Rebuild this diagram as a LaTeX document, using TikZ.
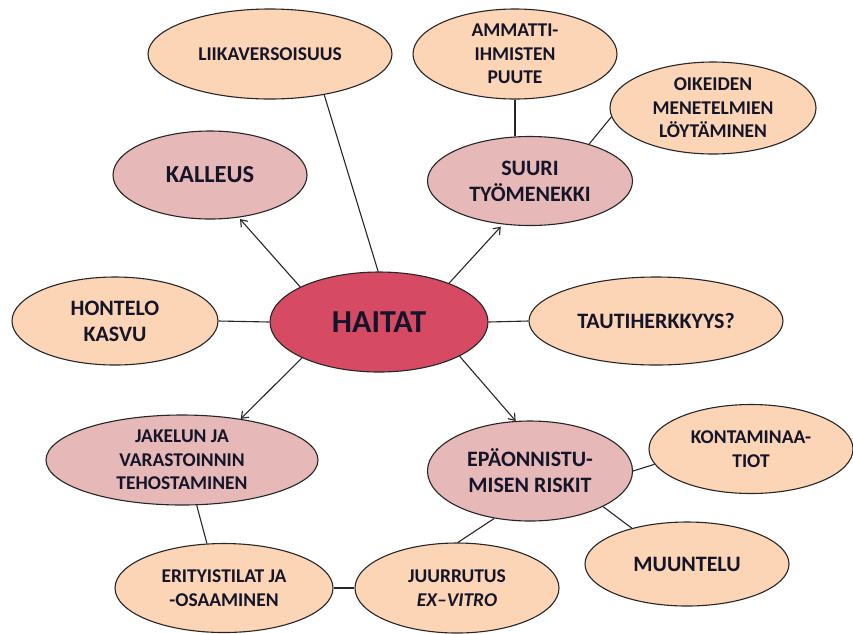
\documentclass[tikz,border=0pt]{standalone}
\usepackage{fontspec}
\setmainfont{Carlito}
\usetikzlibrary{shapes.geometric,arrows.meta}
\definecolor{peach}{HTML}{FBD5B5}
\definecolor{pinkish}{HTML}{E6B8B8}
\definecolor{haitatred}{HTML}{D64B63}
\definecolor{txt}{HTML}{15152A}
\tikzset{
  bubble/.style={ellipse, draw=black!85, line width=1.1pt, inner sep=0pt, align=center,
    text=txt, font=\bfseries\fontsize{19.5}{23.5}\selectfont},
  outer/.style={bubble, fill=peach},
  inner/.style={bubble, fill=pinkish},
  midtext/.style={font=\bfseries\fontsize{22}{26}\selectfont},
  conn/.style={line width=1.1pt, draw=black!85},
  arr/.style={conn, -{Straight Barb[length=6pt,width=9pt,line width=1.1pt]}},
}
\begin{document}
\begin{tikzpicture}[x=1pt,y=-1pt]
\useasboundingbox (0,0) rectangle (853,633);
\node[ellipse, draw=black!85, line width=1.1pt, fill=haitatred, minimum width=218, minimum height=100, inner sep=0pt, text=txt, font=\bfseries\fontsize{32}{36}\selectfont] (haitat) at (379,322) {HAITAT};
\node[outer, minimum width=244, minimum height=90] (liika) at (270,54) {LIIKAVERSOISUUS};
\node[inner, minimum width=194, minimum height=88, font=\bfseries\fontsize{24.5}{29}\selectfont] (kalleus) at (210,175) {KALLEUS};
\node[outer, midtext, minimum width=206, minimum height=88] (hontelo) at (115,321) {HONTELO\\KASVU};
\node[outer, minimum width=204, minimum height=90] (ammatti) at (515,54) {AMMATTI-\\IHMISTEN\\PUUTE};
\node[outer, minimum width=206, minimum height=92] (oikeiden) at (713,108) {OIKEIDEN\\MENETELMIEN\\LÖYTÄMINEN};
\node[inner, midtext, minimum width=205, minimum height=89] (suuri) at (530,181) {SUURI\\TYÖMENEKKI};
\node[outer, midtext, minimum width=254, minimum height=88] (tauti) at (656,321) {TAUTIHERKKYYS?};
\node[inner, minimum width=272, minimum height=90] (jakelun) at (182,460) {JAKELUN JA\\VARASTOINNIN\\TEHOSTAMINEN};
\node[outer, minimum width=218, minimum height=89] (erityis) at (224,588) {ERITYISTILAT JA\\-OSAAMINEN};
\node[outer, minimum width=204, minimum height=90] (juur) at (457,588) {JUURRUTUS\\\textit{EX–VITRO}};
\node[inner, midtext, minimum width=205, minimum height=100] (epa) at (530,471) {EPÄONNISTU-\\MISEN RISKIT};
\node[outer, minimum width=204, minimum height=89] (kont) at (751,449) {KONTAMINAA-\\TIOT};
\node[outer, midtext, minimum width=204, minimum height=84] (muunt) at (687,564) {MUUNTELU};

\draw[conn] (liika.-37.5) -- (haitat.91);
\draw[arr, shorten >=2pt] (haitat.156) -- (kalleus.-56);
\draw[arr, shorten >=3pt] (haitat.29.4) -- (suuri.-122);
\draw[conn] (hontelo.east) -- (haitat.west);
\draw[conn] (haitat.east) -- (tauti.west);
\draw[arr] (haitat.205) -- (jakelun.35.5);
\draw[arr] (haitat.-23.4) -- (epa.106);
\draw[conn] (ammatti.south) -- (suuri.north -| ammatti.south);
\draw[conn] (oikeiden.185.7) -- (suuri.32);
\draw[conn] (jakelun.-72) -- (erityis.111);
\draw[conn] (erityis.east) -- (juur.west);
\draw[conn] (epa.-127.8) -- (juur.89);
\draw[conn] (epa.-0.5) -- (kont.189.7);
\draw[conn] (epa.-26) -- (muunt.147.7);
\end{tikzpicture}
\end{document}
